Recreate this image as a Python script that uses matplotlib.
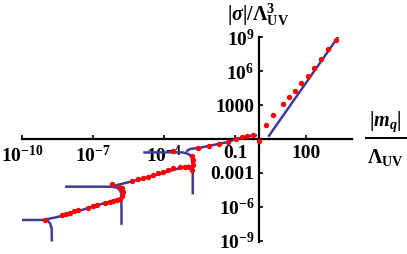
import matplotlib
matplotlib.use("Agg")
import matplotlib.pyplot as plt
from matplotlib.ticker import NullLocator
from matplotlib.lines import Line2D

plt.rcParams['font.family'] = 'Liberation Serif'
plt.rcParams['font.weight'] = 'bold'
plt.rcParams['mathtext.fontset'] = 'custom'
plt.rcParams['mathtext.rm'] = 'Liberation Serif:bold'
plt.rcParams['mathtext.it'] = 'Liberation Serif:italic:bold'
plt.rcParams['mathtext.bf'] = 'Liberation Serif:bold'

# ---------------- data ----------------
# blue analytic curves (several branches)
blue_plateau_a_x = [1.0e-10, 3.5e-10, 8.5e-10, 1.26e-9, 1.58e-9, 1.8e-9, 1.82e-9]
blue_plateau_a_y = [6.8e-8, 6.8e-8, 6.8e-8, 5.5e-8, 3.0e-8, 1.1e-8, 8.5e-10]

blue_rising_a_x = [9.3e-10, 2.45e-9, 6.6e-9, 3.4e-8, 1.6e-7, 6.3e-7, 1.15e-6, 1.45e-6, 1.57e-6, 1.6e-6, 1.6e-6]
blue_rising_a_y = [7.6e-8, 1.1e-7, 1.9e-7, 5.2e-7, 1.45e-6, 3.2e-6, 4.7e-6, 4.5e-6, 2.6e-6, 5.2e-7, 2.5e-8]

blue_plateau_b_x = [6.6e-9, 1.97e-7, 6.3e-7, 9.3e-7, 1.25e-6, 1.49e-6, 1.6e-6, 1.6e-6]
blue_plateau_b_y = [6.0e-5, 6.0e-5, 5.9e-5, 5.1e-5, 3.8e-5, 2.0e-5, 9.1e-6, 4.0e-6]

blue_rising_b_x = [7.0e-7, 1.38e-6, 5.0e-6, 2.55e-5, 1.3e-4, 4.7e-4, 1.06e-3, 1.38e-3, 1.6e-3, 1.63e-3, 1.63e-3]
blue_rising_b_y = [6.9e-5, 9.8e-5, 1.9e-4, 4.6e-4, 1.28e-3, 2.6e-3, 4.3e-3, 3.7e-3, 2.2e-3, 6.5e-4, 1.23e-5]

blue_plateau_c_x = [1.33e-5, 2.9e-4, 6.3e-4, 9.3e-4, 1.25e-3, 1.49e-3, 1.6e-3]
blue_plateau_c_y = [6.4e-2, 6.6e-2, 6.4e-2, 5.2e-2, 3.8e-2, 2.1e-2, 5.0e-3]

blue_rising_c_x = [8.5e-4, 1.25e-3, 3.3e-3, 1.2e-2, 4.45e-2, 0.1, 0.264, 0.506, 0.85]
blue_rising_c_y = [7.8e-2, 0.13, 0.17, 0.295, 0.51, 0.9, 1.6, 1.96, 2.1]

blue_large_x = [2.55, 2300.0]
blue_large_y = [1.6, 1.13e9]

# red numerical points
red_x = [9.4e-10, 4.9e-9, 7.2e-9, 1.07e-8, 1.58e-8, 2.3e-8, 6.4e-8, 1.0e-7, 1.48e-7,
         3.2e-7, 5.0e-7, 7.3e-7, 1.03e-6, 1.38e-6, 1.73e-6, 1.9e-6, 1.73e-6, 1.26e-6, 6.3e-7,
         4.3e-6, 8.2e-6, 1.33e-5, 2.17e-5, 3.5e-5, 5.7e-5, 9.3e-5, 1.5e-4, 2.5e-4, 4.7e-4,
         7.7e-4, 1.17e-3, 1.45e-3, 1.67e-3, 1.72e-3, 1.48e-3, 2.5e-4,
         2.8e-3, 7.6e-3, 2.0e-2, 5.2e-2, 0.115, 0.19, 0.305, 0.55, 0.98,
         1.98, 4.1, 10.9, 19.0, 34.0, 61.0, 117.0, 224.0, 430.0, 870.0, 1790.0]
red_y = [6.8e-8, 1.9e-7, 2.3e-7, 3.1e-7, 4.0e-7, 5.0e-7, 7.8e-7, 1.1e-6, 1.36e-6,
         2.3e-6, 2.9e-6, 3.4e-6, 3.8e-6, 4.9e-6, 9.6e-6, 2.2e-5, 4.4e-5, 6.0e-5, 9.8e-5,
         1.8e-4, 2.7e-4, 3.7e-4, 4.6e-4, 6.5e-4, 9.2e-4, 1.28e-3, 1.8e-3, 2.45e-3, 3.1e-3,
         3.5e-3, 3.0e-3, 1.8e-3, 5.0e-3, 1.39e-2, 2.95e-2, 8.7e-2,
         0.16, 0.226, 0.36, 0.59, 1.1, 1.5, 1.84, 2.1, 0.6,
         17.3, 133.0, 1250.0, 4900.0, 1.8e4, 8.5e4, 4.0e5, 2.0e6, 1.2e7, 8.7e7, 5.8e8]

x_ticks = [1e-10, 1e-7, 1e-4, 0.1, 100]
x_tick_labels = [r'$10^{-10}$', r'$10^{-7}$', r'$10^{-4}$', '0.1', '100']
y_ticks = [1e-9, 1e-6, 1e-3, 1e3, 1e6, 1e9]
y_tick_labels = [r'$10^{-9}$', r'$10^{-6}$', '0.001', '1000', r'$10^{6}$', r'$10^{9}$']

# ---------------- figure ----------------
W, H = 407, 254
fig = plt.figure(figsize=(W / 100, H / 100), dpi=100)
ax = fig.add_axes([22 / W, 1 - 241.8 / H, 330 / W, (241.8 - 36.96) / H])
ax.set_xscale('log')
ax.set_yscale('log')
ax.set_xlim(1e-10, 10 ** 3.94)
ax.set_ylim(10 ** -9.1, 10 ** 9.03)

BLUE = '#3d3d99'
for bx, by in [(blue_plateau_a_x, blue_plateau_a_y), (blue_rising_a_x, blue_rising_a_y),
               (blue_plateau_b_x, blue_plateau_b_y), (blue_rising_b_x, blue_rising_b_y),
               (blue_plateau_c_x, blue_plateau_c_y), (blue_rising_c_x, blue_rising_c_y),
               (blue_large_x, blue_large_y)]:
    ax.plot(bx, by, color=BLUE, lw=1.8, solid_joinstyle='round', solid_capstyle='butt', zorder=2)

ax.plot(red_x, red_y, 'o', color='red', ms=3.9, mec='none', zorder=3)

for s in ['top', 'right']:
    ax.spines[s].set_visible(False)
ax.spines['left'].set_position(('data', 1))
ax.spines['bottom'].set_position(('data', 1))
for s in ['left', 'bottom']:
    ax.spines[s].set_linewidth(1.6)
    ax.spines[s].set_zorder(1)

ax.set_xticks(x_ticks)
ax.set_xticklabels(x_tick_labels)
ax.set_yticks(y_ticks)
ax.set_yticklabels(y_tick_labels)
ax.xaxis.set_minor_locator(NullLocator())
ax.yaxis.set_minor_locator(NullLocator())
ax.tick_params(axis='both', direction='in', length=3, width=1.2, labelsize=14)
ax.tick_params(axis='x', pad=4)
ax.tick_params(axis='y', pad=3)
for lab in ax.get_xticklabels() + ax.get_yticklabels():
    lab.set_fontweight('bold')

# axis labels
fig.text(258.5 / W, 1 - 21 / H, r'$|\sigma|/\Lambda_{\mathrm{UV}}^{3}$', ha='center', va='baseline', fontsize=14.5)
fig.text(385 / W, 1 - 126 / H, r'$|m_q|$', ha='center', va='baseline', fontsize=14.5)
fig.text(385 / W, 1 - 163 / H, r'$\Lambda_{\mathrm{UV}}$', ha='center', va='baseline', fontsize=14.5)
fig.add_artist(Line2D([366 / W, 406 / W], [1 - 138 / H, 1 - 138 / H], color='black', lw=1.4,
                      transform=fig.transFigure))

fig.savefig('out.png', dpi=100)
